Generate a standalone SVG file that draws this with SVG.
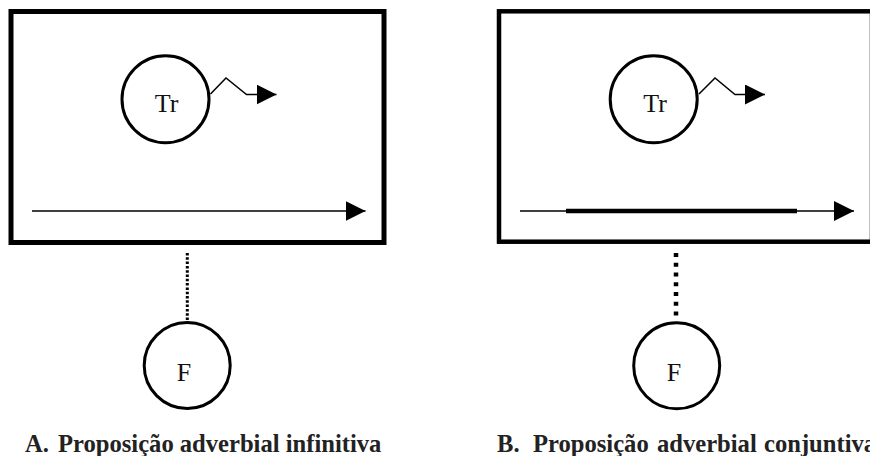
<svg xmlns="http://www.w3.org/2000/svg" width="870" height="456" viewBox="0 0 870 456">
<style>
.frame{fill:none;stroke:#000}
.node circle{fill:#fff;stroke:#000;stroke-width:3}
.node text{font-family:"Liberation Serif","Times New Roman",serif;font-size:26px;fill:#111;text-anchor:middle}
.line{fill:none;stroke:#000;stroke-width:1.5}
.label{font-family:"Liberation Serif","Times New Roman",serif;font-size:24.6px;font-weight:bold;fill:#222}
</style>
<defs>
<marker id="ah" viewBox="0 0 20 20" markerWidth="20" markerHeight="20" refX="20" refY="10" markerUnits="userSpaceOnUse" orient="auto">
<path d="M0,0 L20,10 L0,20 z" fill="#000"/>
</marker>
</defs>
<rect x="0" y="0" width="870" height="456" fill="#fff"/>
<g id="frame-a"><rect class="frame" x="11" y="11.5" width="373" height="231" stroke-width="5"/></g>
<g id="frame-b"><rect class="frame" x="499" y="11.3" width="373" height="230.4" stroke-width="4.5"/></g>
<g id="connectors">
<polyline class="line" points="210.5,94 226,78 246.5,94.5 276.5,94.5" marker-end="url(#ah)"/>
<line class="line" x1="32" y1="211" x2="365.5" y2="211" marker-end="url(#ah)"/>
<line x1="187.3" y1="253" x2="187.3" y2="320" stroke="#000" stroke-width="3" stroke-dasharray="2.5 1.8"/>
<polyline class="line" points="699,94 715,78 735,94.5 765,94.5" marker-end="url(#ah)"/>
<line class="line" x1="520" y1="211" x2="854" y2="211" marker-end="url(#ah)"/>
<line x1="566" y1="211" x2="797" y2="211" stroke="#000" stroke-width="4.5"/>
<line x1="676" y1="253" x2="676" y2="316" stroke="#000" stroke-width="4.5" stroke-dasharray="4 5.75"/>
</g>
<g id="tr-a" class="node"><circle cx="165.5" cy="99.3" r="43.5"/><text x="166.5" y="112">Tr</text></g>
<g id="f-a" class="node"><circle cx="187.2" cy="365.5" r="43"/><text x="184" y="381">F</text></g>
<g id="tr-b" class="node"><circle cx="653.7" cy="99.3" r="43.5"/><text x="655" y="112">Tr</text></g>
<g id="f-b" class="node"><circle cx="676.7" cy="365.8" r="43"/><text x="674" y="381">F</text></g>
<g id="label-a"><text class="label" y="452"><tspan x="25">A.</tspan><tspan x="58">Proposição adverbial infinitiva</tspan></text></g>
<g id="label-b"><text class="label" y="452"><tspan x="497">B.</tspan><tspan x="533">Proposição</tspan><tspan x="657">adverbial</tspan><tspan x="764">conjuntiva</tspan></text></g>
</svg>
